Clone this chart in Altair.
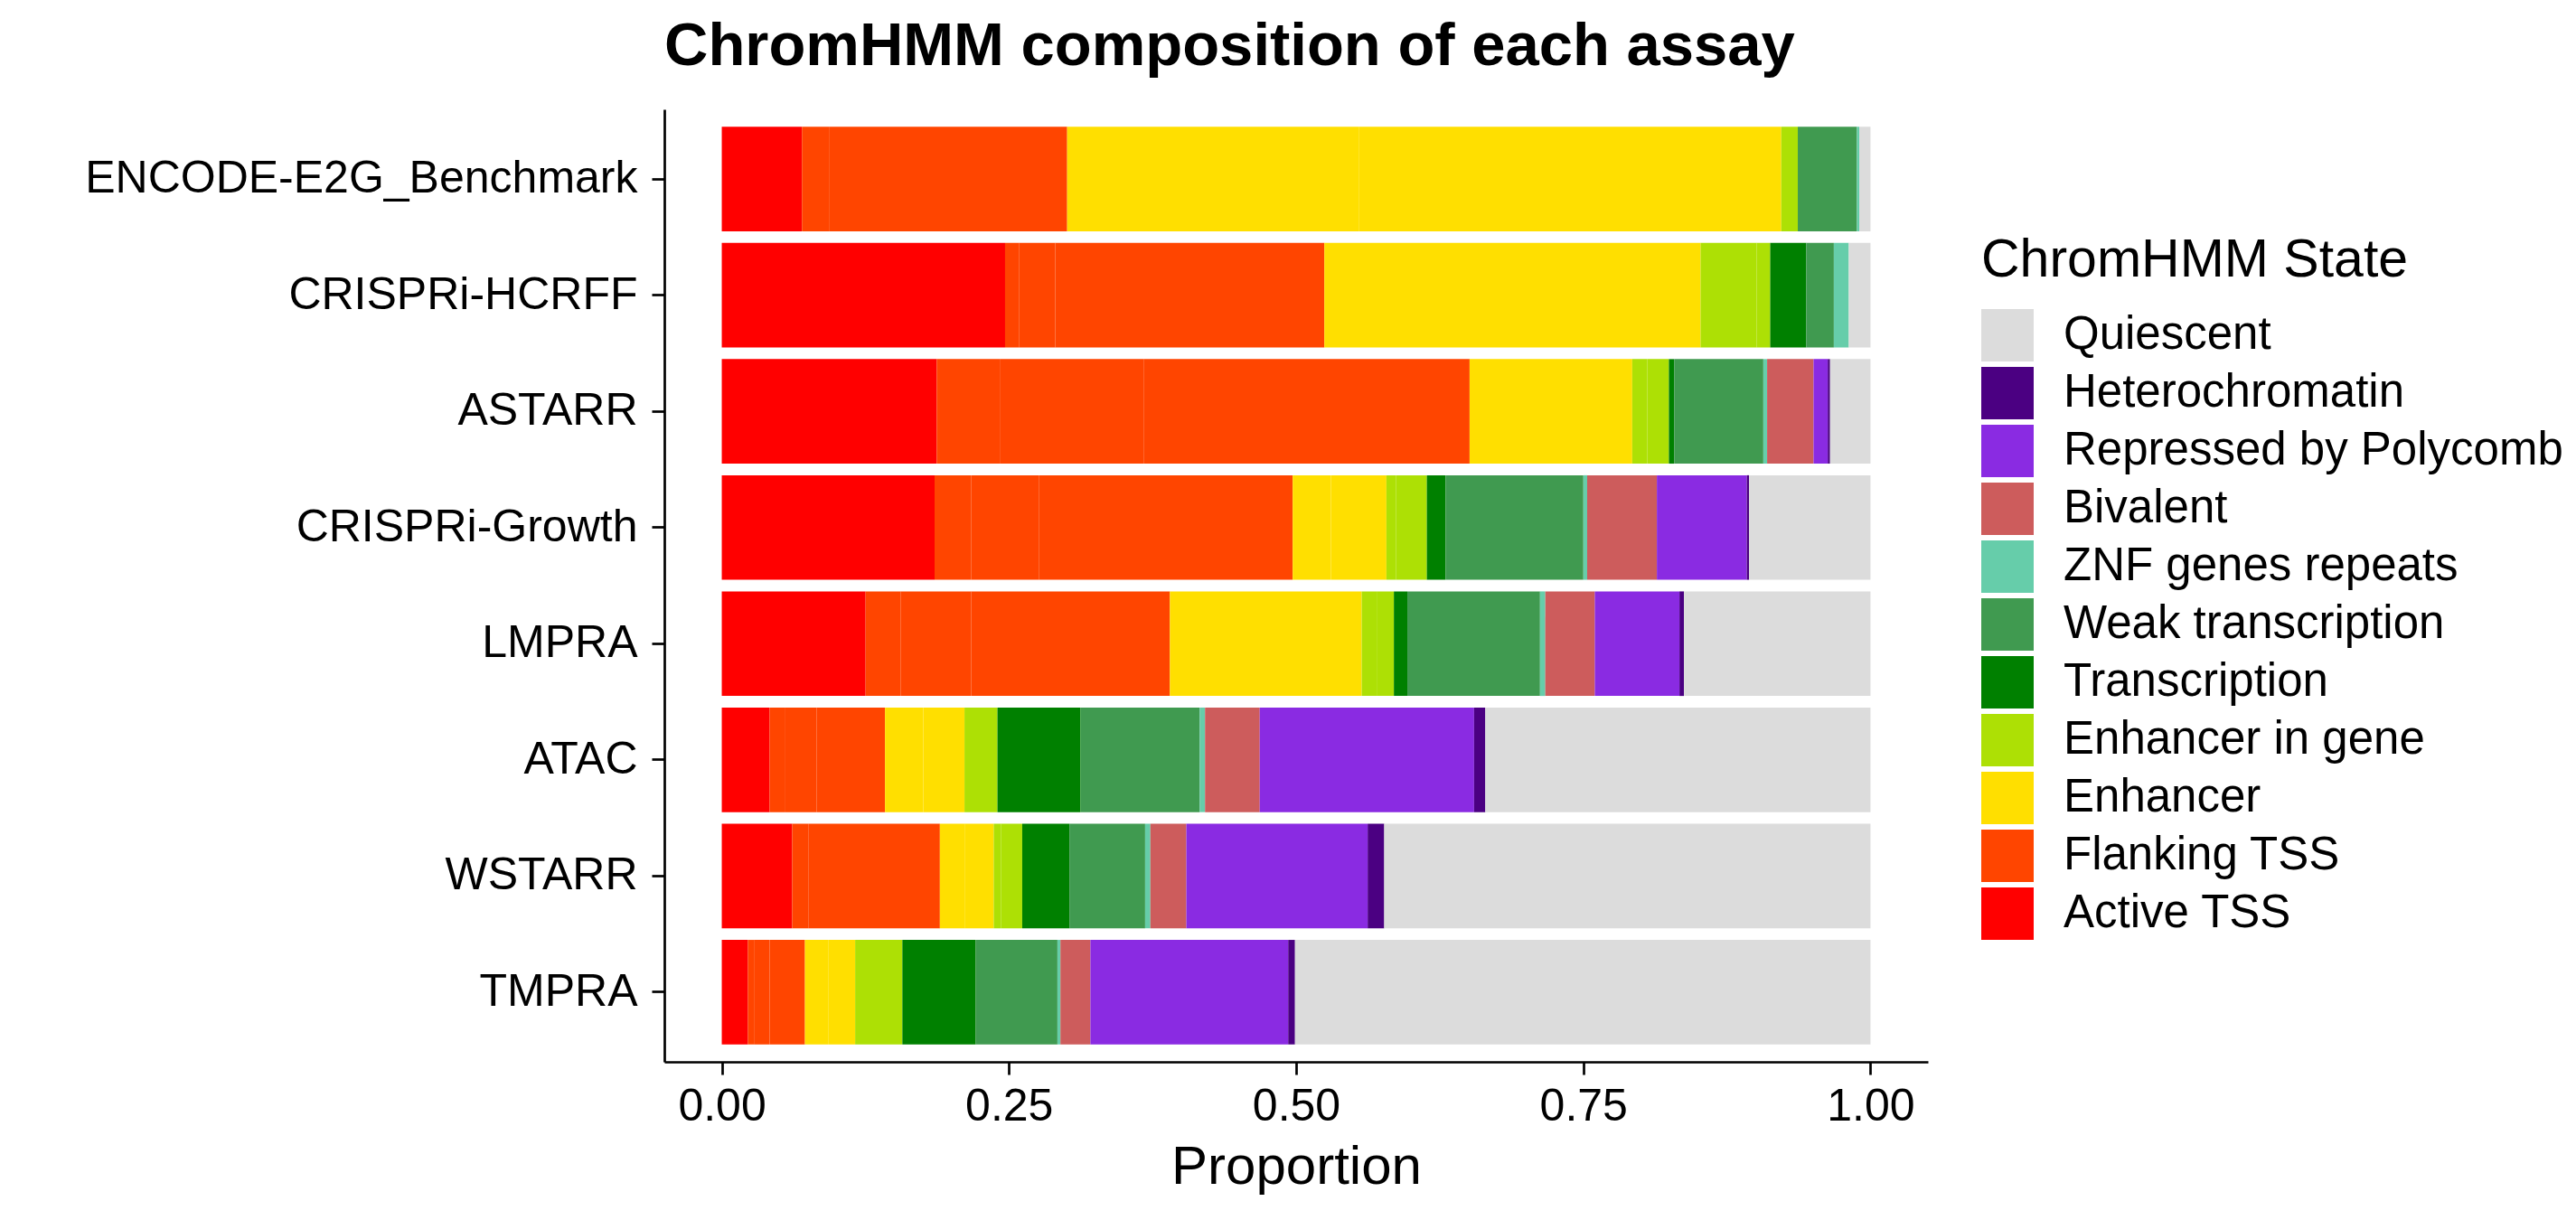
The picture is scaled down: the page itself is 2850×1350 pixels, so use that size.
import altair as alt
import pandas as pd

assays = ["ENCODE-E2G_Benchmark", "CRISPRi-HCRFF", "ASTARR", "CRISPRi-Growth",
          "LMPRA", "ATAC", "WSTARR", "TMPRA"]

sub_states = ["TssA", "TssFlnk", "TssFlnkU", "TssFlnkD", "EnhA1", "EnhA2",
              "EnhG1", "EnhG2", "Tx", "TxWk", "ZNF/Rpts", "Biv", "ReprPC", "Het", "Quies"]
sub_group = ["Active TSS", "Flanking TSS", "Flanking TSS", "Flanking TSS",
             "Enhancer", "Enhancer", "Enhancer in gene", "Enhancer in gene",
             "Transcription", "Weak transcription", "ZNF genes repeats",
             "Bivalent", "Repressed by Polycomb", "Heterochromatin", "Quiescent"]

# percent of each assay's elements in each sub-state
pct_encode = [6.98, 2.41, 20.68, 0, 25.38, 36.79, 1.44, 0, 0, 5.15, 0.20, 0, 0, 0, 0.98]
pct_hcrff = [24.66, 1.24, 3.13, 23.42, 32.75, 0, 4.89, 1.17, 3.13, 2.41, 1.30, 0, 0, 0, 1.89]
pct_astarr = [18.72, 5.48, 12.52, 28.38, 14.16, 0, 1.30, 1.89, 0.46, 7.76, 0.33, 4.04, 1.24, 0.20, 3.52]
pct_growth = [18.53, 3.20, 5.87, 22.11, 3.33, 4.83, 0.85, 2.67, 1.63, 12.00, 0.33, 6.07, 7.83, 0.20, 10.57]
pct_lmpra = [12.52, 3.07, 6.13, 17.29, 16.70, 0, 1.30, 1.50, 1.17, 11.55, 0.46, 4.31, 7.37, 0.39, 16.24]
pct_atac = [4.17, 1.30, 2.80, 5.94, 3.33, 3.59, 2.87, 0, 7.24, 10.37, 0.46, 4.76, 18.66, 0.98, 33.53]
pct_wstarr = [6.13, 1.44, 11.42, 0, 2.15, 2.54, 0.65, 1.83, 4.11, 6.59, 0.46, 3.13, 15.79, 1.44, 42.34]
pct_tmpra = [2.28, 0.52, 1.37, 3.07, 2.02, 2.35, 4.11, 0, 6.39, 7.11, 0.26, 2.61, 17.22, 0.59, 50.10]

legend_states = ["Quiescent", "Heterochromatin", "Repressed by Polycomb", "Bivalent",
                 "ZNF genes repeats", "Weak transcription", "Transcription",
                 "Enhancer in gene", "Enhancer", "Flanking TSS", "Active TSS"]
legend_colors = ["#DCDCDC", "#4B0082", "#8A2BE2", "#CD5C5C", "#66CDAA", "#409A50",
                 "#008000", "#ADE005", "#FFDF00", "#FF4500", "#FF0000"]

all_pct = [pct_encode, pct_hcrff, pct_astarr, pct_growth, pct_lmpra, pct_atac, pct_wstarr, pct_tmpra]
rows = []
for assay, vals in zip(assays, all_pct):
    total = sum(vals)
    for i, (s, g, v) in enumerate(zip(sub_states, sub_group, vals)):
        if v > 0:
            rows.append({"assay": assay, "sub": s, "state": g, "idx": i, "prop": v / total})
df = pd.DataFrame(rows)

FONT = "Liberation Sans"

chart = alt.Chart(df).mark_bar(strokeWidth=0).encode(
    x=alt.X("prop:Q", stack="zero",
            scale=alt.Scale(domain=[-0.05, 1.05], nice=False, zero=False),
            axis=alt.Axis(title="Proportion", values=[0, 0.25, 0.5, 0.75, 1.0], format=".2f",
                          grid=False, tickSize=14, labelPadding=10, titlePadding=13)),
    y=alt.Y("assay:N", sort=assays,
            scale=alt.Scale(paddingInner=0.1, paddingOuter=0.15),
            axis=alt.Axis(title=None, grid=False, tickSize=14, labelPadding=16,
                          labelLimit=1000)),
    color=alt.Color("state:N",
                    scale=alt.Scale(domain=legend_states, range=legend_colors),
                    legend=alt.Legend(title="ChromHMM State", orient="none",
                                      legendX=1457, legendY=138)),
    order=alt.Order("idx:Q", sort="ascending"),
).properties(
    width=1398,
    height=1054,
    title=alt.TitleParams("ChromHMM composition of each assay", anchor="start",
                          frame="group", font=FONT, fontSize=67, fontWeight="bold",
                          color="black", baseline="alphabetic", offset=-18, limit=3000),
    autosize=alt.AutoSizeParams(type="none"),
    padding={"left": 735, "top": 121, "right": 717, "bottom": 175},
).configure_view(
    stroke=None
).configure_axis(
    domainColor="black", domainWidth=2.7, tickColor="black", tickWidth=2.7,
    labelColor="black", labelFont=FONT, labelFontSize=50,
    titleColor="black", titleFont=FONT, titleFontSize=60, titleFontWeight="normal",
).configure_legend(
    titleFont=FONT, titleFontSize=59, titleFontWeight="normal", titleColor="black",
    titlePadding=24, labelFont=FONT, labelFontSize=51, labelColor="black",
    symbolType="square", symbolSize=3364, symbolStrokeWidth=0, symbolOpacity=1,
    rowPadding=6, labelOffset=33, padding=0, titleBaseline="top",
    labelLimit=1000, titleLimit=1000,
)

chart.save("out.html", embed_options={"renderer": "svg", "actions": False})
